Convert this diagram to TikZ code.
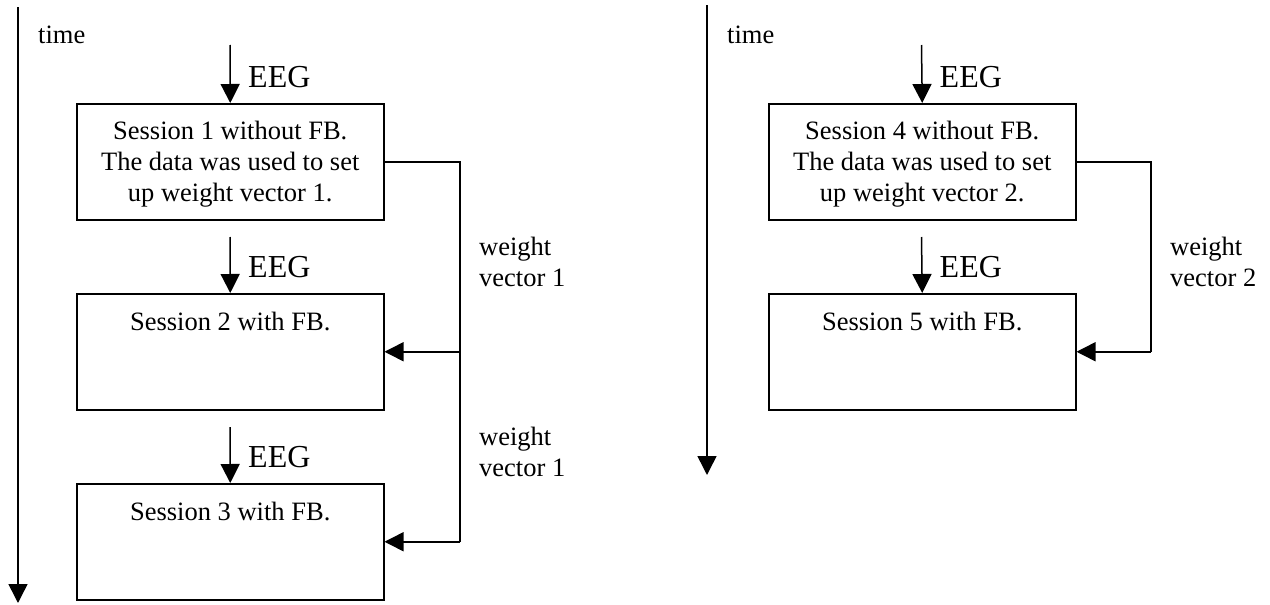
\documentclass[tikz,border=0pt]{standalone}
\usepackage{fontspec}
\setmainfont{Liberation Serif}
\usetikzlibrary{arrows.meta}
\begin{document}
\begin{tikzpicture}[x=1pt,y=-1pt,
  ln/.style={line width=1.5pt},
  arr/.style={ln,-{Triangle[length=19pt,width=19pt]}},
  sbox/.style={draw,line width=1.5pt,minimum width=307pt,minimum height=116pt,inner sep=0pt,anchor=north west},
  txt/.style={font=\fontsize{26.5}{31}\selectfont,inner sep=0pt},
  eeg/.style={font=\fontsize{32}{36}\selectfont,inner sep=0pt,anchor=base west},
]
\useasboundingbox (0,0) rectangle (1270,605);

% ---------- left part ----------
\coordinate (ta) at (18,7);
\coordinate (tb) at (18,603);
\draw[arr] (ta) -- (tb);
\node[txt,anchor=base west] (time1) at (38,43) {time};

\node[sbox] (b1) at (76,103) {};
\node[sbox] (b2) at (76,293) {};
\node[sbox] (b3) at (76,483) {};

\node[txt,anchor=north,align=center] (t1) at ([yshift=-14.3pt]b1.north) {\strut Session 1 without FB.\\The data was used to set\\up weight vector 1.};
\node[txt,anchor=north,align=center] (t2) at ([yshift=-15.3pt]b2.north) {\strut Session 2 with FB.};
\node[txt,anchor=north,align=center] (t3) at ([yshift=-15.3pt]b3.north) {\strut Session 3 with FB.};

\coordinate (e1) at (230,45);
\coordinate (e2) at (230,237);
\coordinate (e3) at (230,427);
\draw[arr] (e1) -- (b1.north);
\draw[arr] (e2) -- (b2.north);
\draw[arr] (e3) -- (b3.north);
\node[eeg] (l1) at (248,87) {EEG};
\node[eeg] (l2) at (248,277) {EEG};
\node[eeg] (l3) at (248,467) {EEG};

\coordinate (j1) at (460,161);
\coordinate (j2) at (b2.east -| j1);
\coordinate (j3) at (b3.east -| j1);
\draw[ln] (b1.east) -| (j3);
\draw[arr] (j2) -- (b2.east);
\draw[arr] (j3) -- (b3.east);
\node[txt,anchor=north west,align=left] (w1) at (479,233.3) {\strut weight\\vector 1};
\node[txt,anchor=north west,align=left] (w2) at (479,423.3) {\strut weight\\vector 1};

% ---------- right part ----------
\coordinate (tc) at (707,5);
\coordinate (td) at (707,475);
\draw[arr] (tc) -- (td);
\node[txt,anchor=base west] (time2) at (727,43) {time};

\node[sbox] (b4) at (768,103) {};
\node[sbox] (b5) at (768,293) {};

\node[txt,anchor=north,align=center] (t4) at ([yshift=-14.3pt]b4.north) {\strut Session 4 without FB.\\The data was used to set\\up weight vector 2.};
\node[txt,anchor=north,align=center] (t5) at ([yshift=-15.3pt]b5.north) {\strut Session 5 with FB.};

\coordinate (e4) at (921.5,45);
\coordinate (e5) at (921.5,237);
\draw[arr] (e4) -- (b4.north);
\draw[arr] (e5) -- (b5.north);
\node[eeg] (l4) at (939.5,87) {EEG};
\node[eeg] (l5) at (939.5,277) {EEG};

\coordinate (j4) at (1151,161);
\coordinate (j5) at (b5.east -| j4);
\draw[ln] (b4.east) -| (j5);
\draw[arr] (j5) -- (b5.east);
\node[txt,anchor=north west,align=left] (w3) at (1170,233.3) {\strut weight\\vector 2};
\end{tikzpicture}
\end{document}
